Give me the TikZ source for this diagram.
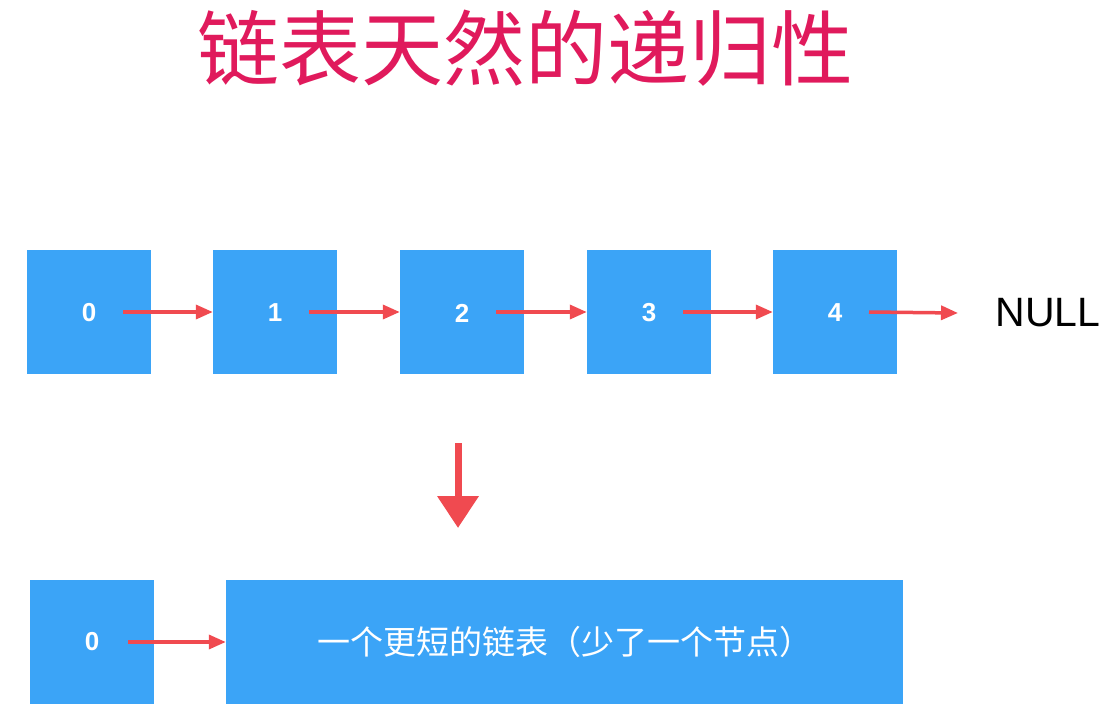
\documentclass[tikz,border=0pt]{standalone}
\usepackage{fontspec}
\setmainfont{Liberation Sans}
\newfontfamily\cjk{Noto Sans CJK SC}
\usetikzlibrary{arrows.meta}
\definecolor{boxblue}{HTML}{3BA4F7}
\definecolor{arrred}{HTML}{F04A50}
\definecolor{titlered}{HTML}{E01A5C}
\tikzset{
  cell/.style={fill=boxblue,draw=none,minimum width=124pt,minimum height=124pt,inner sep=0pt},
  digit/.style={text=white,font=\fontsize{26}{26}\selectfont\bfseries},
  link/.style={arrred,line width=3.5pt,-{Triangle[length=17pt,width=14pt]}},
}
\begin{document}
\begin{tikzpicture}[x=1pt,y=-1pt]
\useasboundingbox (0,0) rectangle (1101,713);
\node[text=titlered,font=\cjk\fontsize{82}{82}\selectfont] (title) at (525,48) {链表天然的递归性};
\foreach \i/\x in {0/89,1/275,2/462,3/649,4/835}{
  \node[cell] (b\i) at (\x,312) {};
  \node[digit] (d\i) at (\x,313) {\i};
}
\node[font=\fontsize{41}{41}\selectfont,anchor=west] (null) at (992,313) {NULL};
\foreach \i/\j in {0/1,1/2,2/3,3/4}{
  \coordinate (s\i) at ([xshift=34pt]b\i.center);
  \draw[link] (s\i) -- (b\j.west);
}
\coordinate (s4) at ([xshift=34pt]b4.center);
\coordinate (nend) at (958,313);
\draw[link] (s4) -- (nend);
\coordinate (dtop) at (458,443);
\coordinate (dbot) at (458,528);
\draw[arrred,line width=7pt,-{Triangle[length=32pt,width=40pt]}] (dtop) -- (dbot);
\node[cell] (c0) at (92,642) {};
\node[digit] (e0) at (92,642) {0};
\node[fill=boxblue,minimum width=677pt,minimum height=124pt,inner sep=0pt,text=white,font=\cjk\fontsize{33}{33}\selectfont] (rest) at (564.5,642) {一个更短的链表（少了一个节点）};
\coordinate (t0) at ([xshift=36pt]c0.center);
\draw[link] (t0) -- (rest.west);
\end{tikzpicture}
\end{document}
